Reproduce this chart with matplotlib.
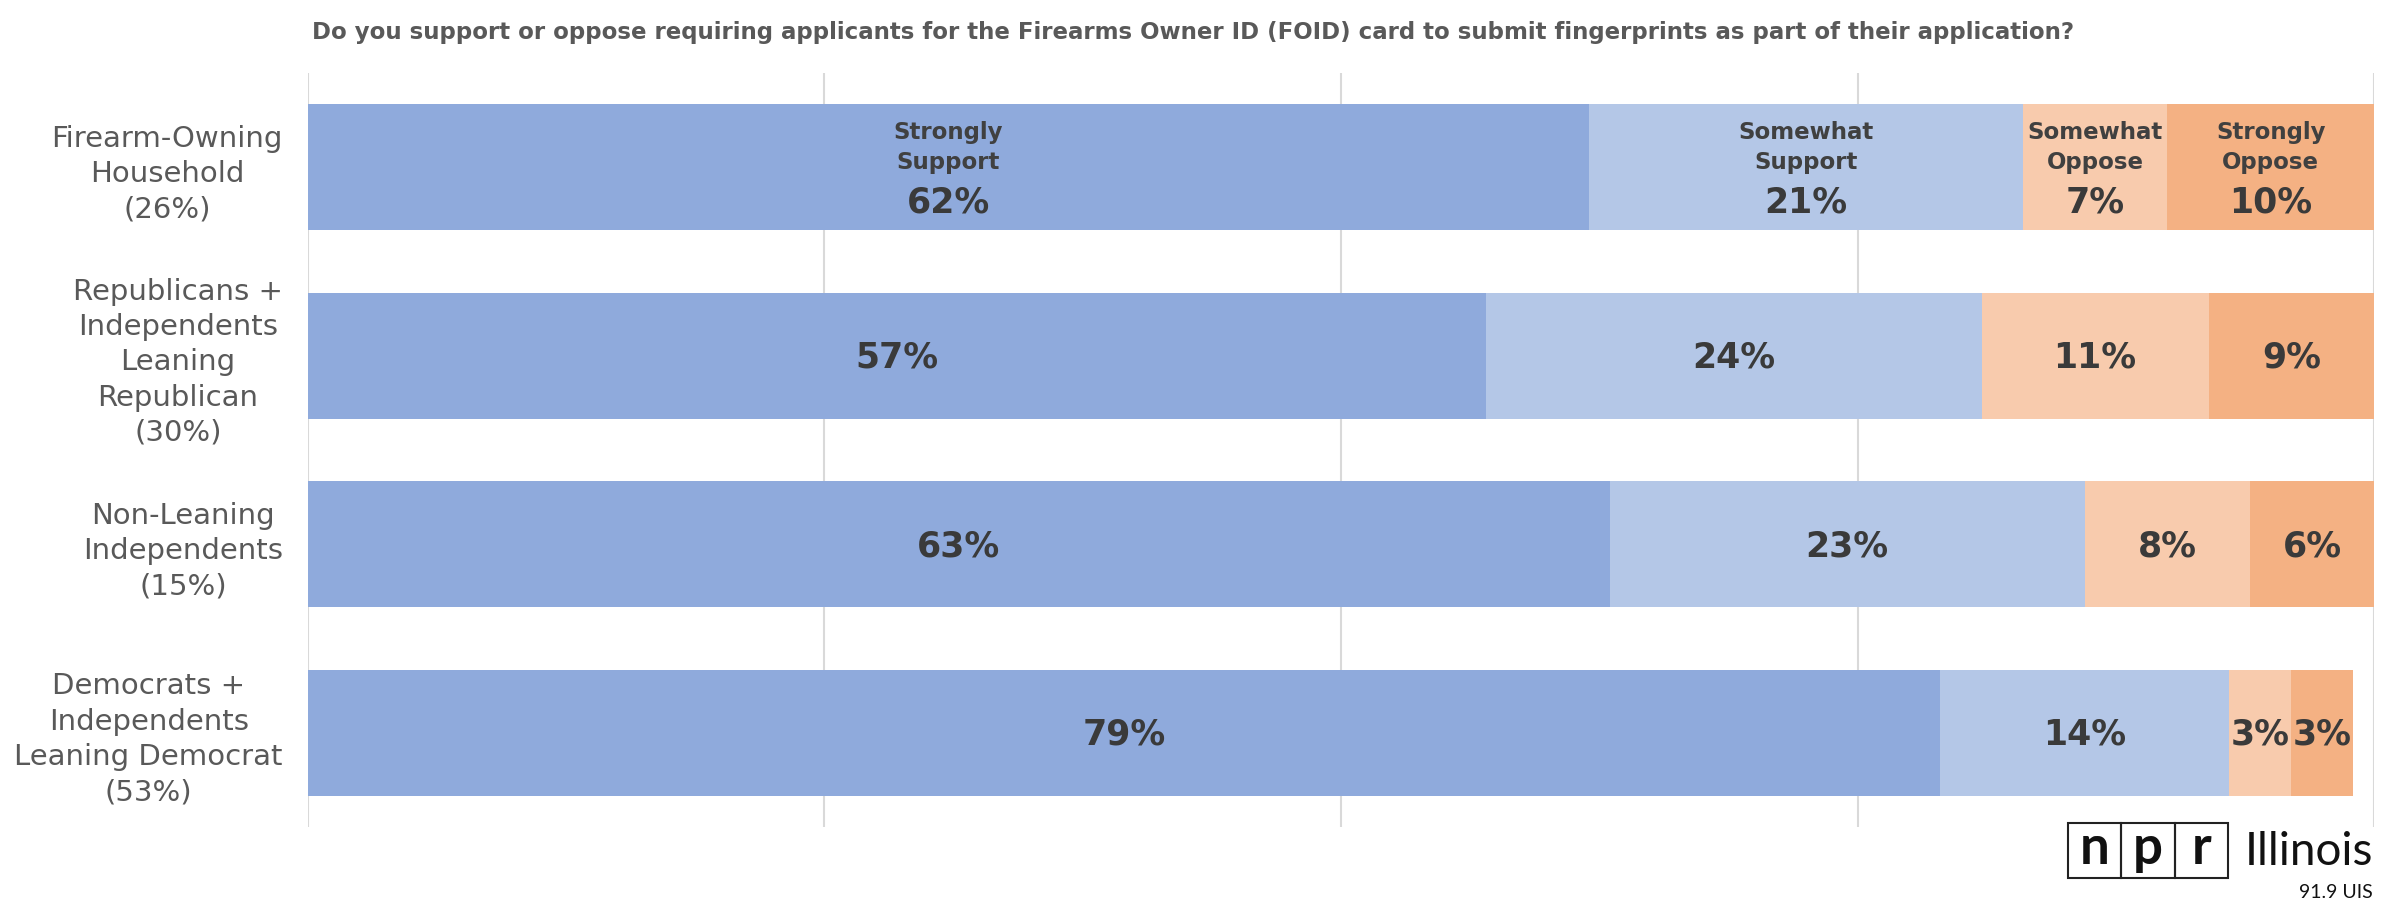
import matplotlib
matplotlib.use("Agg")
import matplotlib.pyplot as plt
from matplotlib.patches import Rectangle
import numpy as np

plt.rcParams['font.family'] = ['DejaVu Sans']

groups = ["Firearm-Owning\nHousehold\n(26%)",
          "Republicans +\nIndependents\nLeaning\nRepublican\n(30%)",
          "Non-Leaning\nIndependents\n(15%)",
          "Democrats +\nIndependents\nLeaning Democrat\n(53%)"]
responses = ["Strongly\nSupport", "Somewhat\nSupport", "Somewhat\nOppose", "Strongly\nOppose"]
strongly_support = [62, 57, 63, 79]
somewhat_support = [21, 24, 23, 14]
somewhat_oppose = [7, 11, 8, 3]
strongly_oppose = [10, 9, 6, 3]
colors = ["#8FAADC", "#B4C7E7", "#F8CBAD", "#F4B183"]
title = ("Do you support or oppose requiring applicants for the Firearms Owner ID (FOID) "
         "card to submit fingerprints as part of their application?")

series = [strongly_support, somewhat_support, somewhat_oppose, strongly_oppose]

fig = plt.figure(figsize=(24, 9.16), dpi=100)
ax = fig.add_axes([0.1283, 0.0972, 0.8609, 0.8231])

y = np.arange(len(groups))
left = np.zeros(len(groups))
for i, vals in enumerate(series):
    vals = np.array(vals, dtype=float)
    ax.barh(y, vals, left=left, height=0.668, color=colors[i], zorder=2)
    for j, v in enumerate(vals):
        cx = left[j] + v / 2
        cx = min(cx, (left[j] + 100) / 2)
        if j == 0:
            ax.text(cx, y[j] - 0.105, responses[i], ha='center', va='center',
                    fontsize=16.5, fontweight='bold', color='#404040',
                    linespacing=1.4, zorder=3)
            ax.text(cx, y[j] + 0.185, f"{int(v)}%", ha='center', va='center',
                    fontsize=25, fontweight='bold', color='#3a3a3a', zorder=3)
        else:
            ax.text(cx, y[j] + 0.01, f"{int(v)}%", ha='center', va='center',
                    fontsize=25, fontweight='bold', color='#3a3a3a', zorder=3)
    left += vals

ax.set_xlim(0, 100)
ax.set_ylim(3.5, -0.5)
ax.set_xticks([0, 25, 50, 75, 100])
ax.xaxis.grid(True, color='#D9D9D9', linewidth=1.5, zorder=0)
ax.tick_params(axis='x', length=0, labelbottom=False)
ax.tick_params(axis='y', length=0, pad=18)
ax.set_yticks(y)
ax.set_yticklabels(groups, fontsize=21, color='#595959',
                   multialignment='center', linespacing=1.33)
for s in ax.spines.values():
    s.set_visible(False)

fig.text(312 / 2400, 1 - 32 / 916, title, ha='left', va='center',
         fontsize=16.5, fontweight='bold', color='#595959')

# logo
lg = fig.add_axes([2060 / 2400, 0, 340 / 2400, 100 / 916])
lg.set_xlim(2060, 2400)
lg.set_ylim(916, 816)
lg.axis('off')
for k, ch in enumerate("npr"):
    x0 = 2068 + k * 53.3
    lg.add_patch(Rectangle((x0, 823), 53.3, 55, fill=False, edgecolor='#222222', linewidth=1.5))
    lg.text(x0 + 26.6, 864, ch, ha='center', va='baseline', fontsize=38,
            fontweight='bold', color='#111111', family='Lato')
lg.text(2373, 865, "Illinois", ha='right', va='baseline', fontsize=33,
        color='#111111', family='Lato')
lg.text(2373, 898, "91.9 UIS", ha='right', va='baseline', fontsize=14,
        color='#111111', family='Lato')

fig.savefig("out.png", dpi=100)
